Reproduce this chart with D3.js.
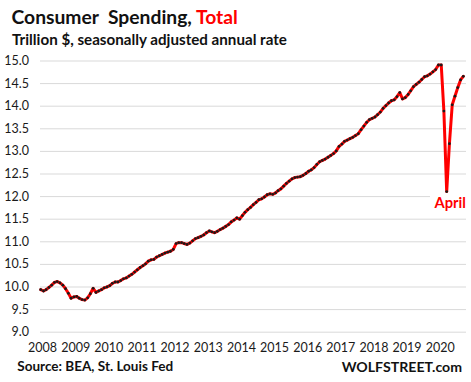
<!DOCTYPE html>
<html><head><meta charset="utf-8">
<script src="https://cdn.jsdelivr.net/npm/d3@7"></script>
<style>
html,body{margin:0;padding:0;background:#fff;}
svg{display:block;}
</style></head>
<body>
<svg id="chart" width="471" height="382"></svg>
<script>
// ---- Data (trillion $, SAAR, monthly from Jan 2008) ----
const startYear = 2008;
const v2008 = [9.93, 9.90, 9.93, 9.98, 10.03, 10.09, 10.11, 10.08, 10.03, 9.95, 9.85, 9.74];
const v2009 = [9.77, 9.78, 9.74, 9.71, 9.70, 9.75, 9.84, 9.96, 9.87, 9.90, 9.93, 9.97];
const v2010 = [9.99, 10.02, 10.07, 10.10, 10.10, 10.13, 10.17, 10.19, 10.23, 10.27, 10.32, 10.37];
const v2011 = [10.42, 10.46, 10.50, 10.56, 10.59, 10.60, 10.65, 10.68, 10.71, 10.74, 10.76, 10.78];
const v2012 = [10.82, 10.95, 10.97, 10.97, 10.95, 10.93, 10.96, 11.01, 11.06, 11.08, 11.11, 11.14];
const v2013 = [11.19, 11.23, 11.21, 11.19, 11.22, 11.26, 11.29, 11.33, 11.37, 11.43, 11.47, 11.52];
const v2014 = [11.49, 11.57, 11.64, 11.70, 11.75, 11.81, 11.86, 11.92, 11.94, 11.98, 12.03, 12.05];
const v2015 = [12.04, 12.07, 12.12, 12.16, 12.22, 12.28, 12.33, 12.38, 12.41, 12.42, 12.43, 12.46];
const v2016 = [12.50, 12.55, 12.58, 12.63, 12.70, 12.76, 12.79, 12.82, 12.86, 12.90, 12.94, 13.00];
const v2017 = [13.10, 13.15, 13.21, 13.24, 13.27, 13.30, 13.34, 13.38, 13.47, 13.55, 13.63, 13.69];
const v2018 = [13.72, 13.75, 13.80, 13.86, 13.94, 14.00, 14.06, 14.11, 14.13, 14.20, 14.29, 14.15];
const v2019 = [14.18, 14.25, 14.33, 14.42, 14.47, 14.52, 14.58, 14.64, 14.66, 14.70, 14.75, 14.80];
const v2020 = [14.90, 14.90, 13.88, 12.10, 13.16, 14.02, 14.21, 14.40, 14.57, 14.65];

const yTicks = [9.0, 9.5, 10.0, 10.5, 11.0, 11.5, 12.0, 12.5, 13.0, 13.5, 14.0, 14.5, 15.0];
const yearLabels = [2008, 2009, 2010, 2011, 2012, 2013, 2014, 2015, 2016, 2017, 2018, 2019, 2020];

const titleMain = "Consumer  Spending, ";
const titleRed = "Total";
const subtitle = "Trillion $, seasonally adjusted annual rate";
const sourceText = "Source: BEA, St. Louis Fed";
const brandText = "WOLFSTREET.com";
const annotation = "April";

// ---- Build series ----
const allYears = [v2008, v2009, v2010, v2011, v2012, v2013, v2014, v2015, v2016, v2017, v2018, v2019, v2020];
const data = [];
allYears.forEach((arr, yi) => arr.forEach((v, mi) => data.push({date: new Date(startYear + yi, mi, 1), value: v})));

const svg = d3.select("#chart");
const W = 471, H = 382;
const gridLeft = 40, gridRight = 466;

function fitWidth(sel, target) {
  const w = sel.node().getComputedTextLength();
  const fs = parseFloat(sel.attr("font-size"));
  sel.attr("font-size", fs * target / w);
}

const x = d3.scaleTime()
  .domain([data[0].date, data[data.length - 1].date])
  .range([40.7, 463.3]);
const y = d3.scaleLinear().domain([9, 15]).range([331.7, 60.5]);

const FONT = "Lato, 'Open Sans', sans-serif";

// gridlines + y labels
const yAxis = d3.axisLeft(y).tickValues(yTicks).tickFormat(d3.format(".1f"))
  .tickSize(-(gridRight - gridLeft)).tickPadding(10);
const gy = svg.append("g").attr("transform", `translate(${gridLeft},0)`).call(yAxis);
gy.select(".domain").remove();
gy.selectAll(".tick line").attr("stroke", "#d9d9d9").attr("stroke-width", 1);
gy.selectAll(".tick text").attr("font-family", FONT).attr("font-size", 12.5).attr("fill", "#1a1a1a").attr("x", -11);

// x labels
const xAxis = d3.axisBottom(x).tickValues(yearLabels.map(yr => new Date(yr, 0, 1)))
  .tickFormat(d3.timeFormat("%Y")).tickSize(0).tickPadding(0);
const gx = svg.append("g").attr("transform", `translate(1.3,343)`).call(xAxis);
gx.select(".domain").remove();
gx.selectAll(".tick text").attr("font-family", FONT).attr("font-size", 12.5).attr("fill", "#1a1a1a");

// April annotation background + text (drawn before line so line stays on top)
const annG = svg.append("g");
const annBg = annG.append("rect").attr("fill", "#fff");
const aText = annG.append("text").attr("x", 434.5).attr("y", 207.5)
  .attr("font-family", FONT).attr("font-weight", "bold").attr("font-size", 15).attr("fill", "#ff0000")
  .text(annotation);
fitWidth(aText, 31.5);
const bb = aText.node().getBBox();
annBg.attr("x", 430).attr("y", bb.y - 1).attr("width", W - 430).attr("height", bb.height + 2);

// line
const line = d3.line().x(d => x(d.date)).y(d => y(d.value));
svg.append("path").datum(data).attr("d", line)
  .attr("fill", "none").attr("stroke", "#ff0000").attr("stroke-width", 3)
  .attr("stroke-linejoin", "round").attr("stroke-linecap", "round");
svg.append("g").selectAll("circle").data(data).join("circle")
  .attr("cx", d => x(d.date)).attr("cy", d => y(d.value)).attr("r", 1.4).attr("fill", "#1a1a1a");

// titles
const t = svg.append("text").attr("x", 11.5).attr("y", 23.5)
  .attr("font-family", FONT).attr("font-weight", "bold").attr("font-size", 18).attr("fill", "#111")
  .attr("xml:space", "preserve").style("white-space", "pre");
t.append("tspan").text(titleMain);
t.append("tspan").attr("fill", "#ff0000").text(titleRed);
fitWidth(t, 226.5);

const st = svg.append("text").attr("x", 12).attr("y", 44.5)
  .attr("font-family", FONT).attr("font-weight", "bold").attr("font-size", 14).attr("fill", "#111")
  .text(subtitle);
fitWidth(st, 275);

const src = svg.append("text").attr("x", 17.3).attr("y", 370.5)
  .attr("font-family", FONT).attr("font-weight", "bold").attr("font-size", 14).attr("fill", "#111")
  .text(sourceText);
fitWidth(src, 156);

const br = svg.append("text").attr("x", 341.7).attr("y", 372)
  .attr("font-family", FONT).attr("font-weight", "bold").attr("font-size", 14).attr("fill", "#111")
  .text(brandText);
fitWidth(br, 120.5);
</script>
</body></html>
